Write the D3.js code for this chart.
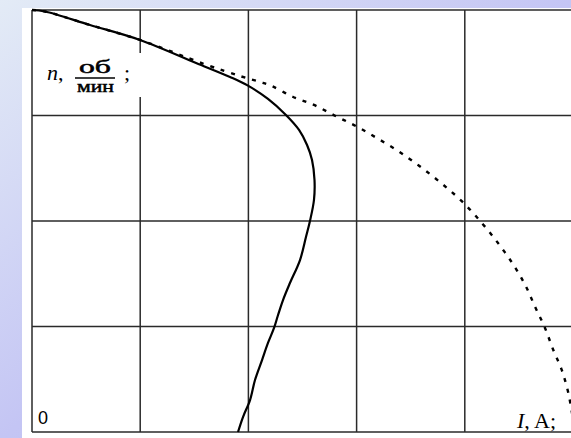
<!DOCTYPE html>
<html>
<head>
<meta charset="utf-8">
<script src="https://cdn.jsdelivr.net/npm/d3@7"></script>
<style>
  html, body { margin: 0; padding: 0; overflow: hidden; }
  svg { display: block; }
</style>
</head>
<body>
<svg id="chart" width="571" height="438"></svg>
<script>
// Grid extents (grid units): 5 columns along I, 4 rows along n
const xTicks = [0, 1, 2, 3, 4, 5];
const yTicks = [0, 1, 2, 3, 4];

// Solid characteristic: I (grid units) and n (grid units)
const solidI = [0, 0.12, 0.536, 0.998, 1.516, 1.83, 1.996, 2.181, 2.347, 2.468, 2.542, 2.588, 2.611, 2.606, 2.569, 2.532, 2.477, 2.384, 2.32, 2.274, 2.237, 2.181, 2.126, 2.061, 2.015, 1.95, 1.904];
const solidN = [4.0, 3.986, 3.858, 3.716, 3.498, 3.365, 3.283, 3.157, 3.005, 2.863, 2.72, 2.578, 2.389, 2.199, 2.0, 1.848, 1.63, 1.412, 1.251, 1.109, 0.986, 0.844, 0.682, 0.493, 0.303, 0.142, 0.0];

// Dashed characteristic
const dashI = [0, 0.12, 0.536, 0.998, 1.6, 1.922, 2.107, 2.215, 2.409, 2.606, 2.80, 2.994, 3.186, 3.383, 3.577, 3.777, 3.977, 4.165, 4.316, 4.455, 4.563, 4.649, 4.741, 4.818, 4.896, 4.957, 5.0];
const dashN = [4.0, 3.986, 3.858, 3.716, 3.485, 3.374, 3.318, 3.28, 3.178, 3.10, 2.998, 2.90, 2.787, 2.664, 2.524, 2.363, 2.183, 1.972, 1.779, 1.576, 1.384, 1.188, 0.986, 0.777, 0.588, 0.37, 0.12];

const svg = d3.select("#chart");
const W = 571, H = 438;

// Background gradient
const defs = svg.append("defs");
const grad = defs.append("linearGradient")
  .attr("id", "bg").attr("x1", 0).attr("y1", 0).attr("x2", 1).attr("y2", 1);
grad.append("stop").attr("offset", "0").attr("stop-color", "#e3ebf6");
grad.append("stop").attr("offset", "0.5").attr("stop-color", "#c4c5f4");
grad.append("stop").attr("offset", "1").attr("stop-color", "#b9b9f0");
svg.append("rect").attr("width", W).attr("height", H).attr("fill", "url(#bg)");

// White panel
svg.append("rect").attr("x", 22).attr("y", 8).attr("width", W - 22).attr("height", H - 8).attr("fill", "#fff");

const x = d3.scaleLinear().domain([0, 5]).range([32, 573]);
const y = d3.scaleLinear().domain([0, 4]).range([432, 10]);

// Grid
const grid = svg.append("g").attr("stroke", "#2a2a2a").attr("stroke-width", 1.5);
grid.selectAll("line.v").data(xTicks).join("line")
  .attr("x1", d => x(d)).attr("x2", d => x(d))
  .attr("y1", y(0)).attr("y2", y(4));
grid.selectAll("line.h").data(yTicks).join("line")
  .attr("y1", d => y(d)).attr("y2", d => y(d))
  .attr("x1", x(0)).attr("x2", x(5));

// White box behind the n-axis label
svg.append("rect").attr("x", 40).attr("y", 53).attr("width", 103).attr("height", 44).attr("fill", "#fff");

const line = d3.line().x(d => x(d[0])).y(d => y(d[1])).curve(d3.curveCatmullRom.alpha(0.5));

svg.append("path")
  .attr("d", line(dashI.map((v, i) => [v, dashN[i]])))
  .attr("fill", "none").attr("stroke", "#000").attr("stroke-width", 2.4)
  .attr("stroke-dasharray", "4,7");

svg.append("path")
  .attr("d", line(solidI.map((v, i) => [v, solidN[i]])))
  .attr("fill", "none").attr("stroke", "#000").attr("stroke-width", 2.2);

// Labels
const serif = "'Liberation Serif', 'Times New Roman', serif";
const nLab = svg.append("text").attr("x", 47).attr("y", 80)
  .attr("font-family", serif).attr("font-size", 22).attr("fill", "#000");
nLab.append("tspan").attr("font-style", "italic").text("n");
nLab.append("tspan").text(",");

svg.append("text").attr("x", 95).attr("y", 73).attr("text-anchor", "middle")
  .attr("font-family", serif).attr("font-size", 18)
  .attr("stroke", "#000").attr("stroke-width", 0.5)
  .attr("textLength", 32).attr("lengthAdjust", "spacingAndGlyphs").text("об");
svg.append("line").attr("x1", 75).attr("x2", 115).attr("y1", 78).attr("y2", 78)
  .attr("stroke", "#000").attr("stroke-width", 1.3);
svg.append("text").attr("x", 95.5).attr("y", 92).attr("text-anchor", "middle")
  .attr("font-family", serif).attr("font-size", 17)
  .attr("stroke", "#000").attr("stroke-width", 0.5)
  .attr("textLength", 37).attr("lengthAdjust", "spacingAndGlyphs").text("мин");
svg.append("text").attr("x", 124).attr("y", 80)
  .attr("font-family", serif).attr("font-size", 22).text(";");

svg.append("text").attr("x", 38).attr("y", 424)
  .attr("font-family", "'Liberation Sans', Arial, sans-serif").attr("font-size", 18).text("0");

const iLab = svg.append("text").attr("x", 517).attr("y", 428)
  .attr("font-family", serif).attr("font-size", 22);
iLab.append("tspan").attr("font-style", "italic").text("I");
iLab.append("tspan").text(", A;");
</script>
</body>
</html>
